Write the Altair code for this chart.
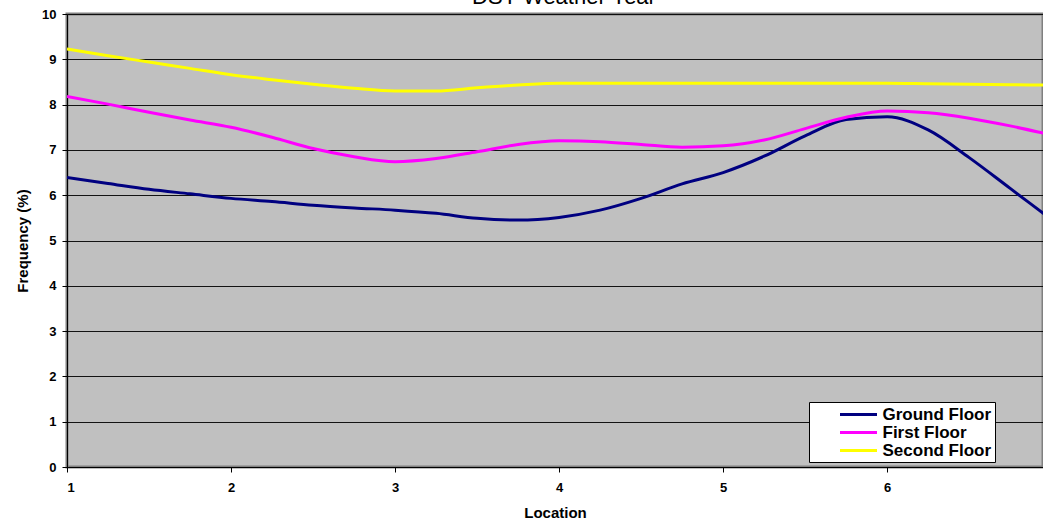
import altair as alt
import pandas as pd

TITLE = "DSY Weather Year"
SERIES = ["Ground Floor", "First Floor", "Second Floor"]
COLORS = ["#000080", "#FF00FF", "#FFFF00"]

location = [1.0, 1.25, 1.5, 1.75, 2.0, 2.25, 2.5, 2.75, 3.0, 3.25, 3.5, 3.75,
            4.0, 4.25, 4.5, 4.75, 5.0, 5.25, 5.5, 5.75, 6.0, 6.25, 6.5, 6.75, 7.0]
ground = [6.39, 6.26, 6.13, 6.03, 5.93, 5.86, 5.78, 5.72, 5.67, 5.60, 5.49, 5.45,
          5.51, 5.67, 5.93, 6.25, 6.50, 6.86, 7.31, 7.67, 7.73, 7.44, 6.83, 6.15, 5.47]
first = [8.18, 8.01, 7.83, 7.66, 7.50, 7.28, 7.03, 6.85, 6.74, 6.81, 6.96, 7.12,
         7.20, 7.18, 7.12, 7.06, 7.09, 7.22, 7.47, 7.72, 7.86, 7.82, 7.70, 7.53, 7.33]
second = [9.23, 9.08, 8.94, 8.80, 8.66, 8.55, 8.45, 8.36, 8.30, 8.30, 8.37, 8.43,
          8.47, 8.47, 8.47, 8.47, 8.47, 8.47, 8.47, 8.47, 8.47, 8.46, 8.45, 8.44, 8.43]

x_ticks = [1, 2, 3, 4, 5, 6]
y_ticks = [0, 1, 2, 3, 4, 5, 6, 7, 8, 9, 10]

rows = []
for name, vals in zip(SERIES, [ground, first, second]):
    for x, v in zip(location, vals):
        rows.append({"Location": x, "Frequency": v, "Series": name})
df = pd.DataFrame(rows)

FONT = "Liberation Sans"

lines = alt.Chart(df).mark_line(strokeWidth=3, interpolate="monotone", clip=True).encode(
    x=alt.X("Location:Q",
            scale=alt.Scale(domain=[1, 6.95], nice=False, zero=False),
            axis=alt.Axis(values=x_ticks, format="d", title="Location", grid=False,
                          tickSize=5, tickColor="black", domainColor="black",
                          labelFont=FONT, labelFontSize=13, labelFontWeight="bold",
                          labelColor="black", labelPadding=9,
                          titleFont=FONT, titleFontSize=15, titleFontWeight="bold",
                          titleColor="black", titlePadding=11)),
    y=alt.Y("Frequency:Q",
            scale=alt.Scale(domain=[0, 10], nice=False),
            axis=alt.Axis(values=y_ticks, format="d", title="Frequency (%)", grid=True,
                          gridColor="black", gridWidth=1, gridOpacity=0.9,
                          tickSize=5, tickColor="black", domainColor="black",
                          labelFont=FONT, labelFontSize=13, labelFontWeight="bold",
                          labelColor="black", labelPadding=6,
                          titleFont=FONT, titleFontSize=15, titleFontWeight="bold",
                          titleColor="black", titlePadding=11)),
    color=alt.Color("Series:N",
                    scale=alt.Scale(domain=SERIES, range=COLORS),
                    sort=SERIES,
                    legend=alt.Legend(title=None, orient="none", legendX=742, legendY=388,
                                      symbolType="M-2.5,0L2.5,0", symbolSize=219,
                                      symbolStrokeWidth=3, symbolOffset=37,
                                      labelFont=FONT, labelFontSize=17,
                                      labelFontWeight="bold", labelColor="black",
                                      labelOffset=15, rowPadding=1, padding=3.5,
                                      fillColor="white", strokeColor="black")),
)

title = alt.Chart(pd.DataFrame({"t": [TITLE]})).mark_text(
    font=FONT, fontSize=22, color="black", align="center", baseline="alphabetic"
).encode(text="t:N", x=alt.value(497), y=alt.value(-10))

chart = alt.layer(lines, title).properties(
    width=976, height=453,
    autosize=alt.AutoSizeParams(type="none"),
    padding={"left": 67, "top": 14, "right": 0, "bottom": 58},
    background="white",
).configure_view(fill="#C0C0C0", stroke="#808080", strokeWidth=3)

chart.save("out.html", embed_options={"renderer": "svg", "actions": False})
